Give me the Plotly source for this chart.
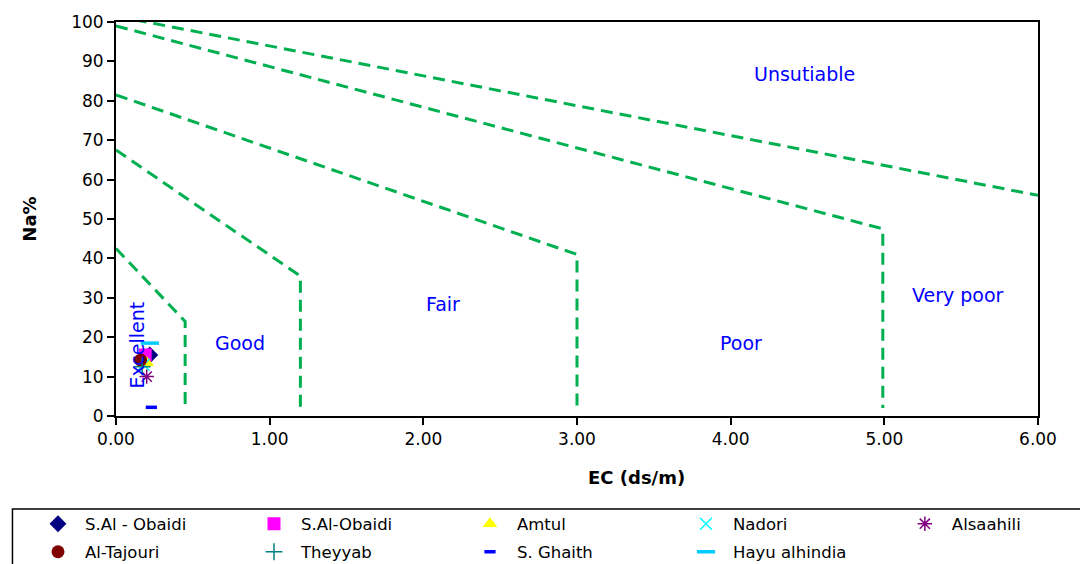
import plotly.graph_objects as go

# ---- Data ----
series_names = ["S.Al - Obaidi", "S.Al-Obaidi", "Amtul", "Nadori", "Alsaahili",
                "Al-Tajouri", "Theyyab", "S. Ghaith", "Hayu alhindia"]
ec_values = [0.22, 0.19, 0.20, 0.18, 0.20, 0.16, 0.17, 0.23, 0.22]
na_values = [15.5, 15.5, 13.5, 13.0, 10.0, 14.2, 12.5, 2.2, 18.5]
symbols = ["diamond", "square", "triangle-up", "x-thin", "asterisk",
           "circle", "cross-thin", "line-ew", "line-ew"]
colors = ["#000080", "#FF00FF", "#FFFF00", "#00FFFF", "#800080",
          "#800000", "#008080", "#0000FF", "#00CCFF"]
legend_slot = ["legend", "legend", "legend", "legend", "legend3",
               "legend2", "legend2", "legend2", "legend2"]

# Wilcox class boundaries (EC, Na%)
excellent_ec = [0.0, 0.45, 0.45]
excellent_na = [42.5, 24.0, 2.0]
good_ec = [0.0, 1.2, 1.2]
good_na = [67.5, 35.5, 2.0]
fair_ec = [0.0, 3.0, 3.0]
fair_na = [81.5, 41.0, 2.0]
poor_ec = [0.0, 4.99, 4.99]
poor_na = [99.0, 47.5, 2.0]
unsuit_ec = [0.0, 6.0]
unsuit_na = [101.5, 56.0]

class_labels = ["Unsutiable", "Fair", "Good", "Poor", "Very poor"]
class_x = [4.48, 2.13, 0.81, 4.07, 5.48]
class_y = [86.8, 28.4, 18.5, 18.5, 30.7]

x_ticks = [0, 1, 2, 3, 4, 5, 6]
x_tick_labels = ["0.00", "1.00", "2.00", "3.00", "4.00", "5.00", "6.00"]
y_ticks = [0, 10, 20, 30, 40, 50, 60, 70, 80, 90, 100]

FONT = "DejaVu Sans, Arial, sans-serif"
GREEN = "#00B050"

fig = go.Figure()

for bx, by in [(excellent_ec, excellent_na), (good_ec, good_na), (fair_ec, fair_na),
               (poor_ec, poor_na), (unsuit_ec, unsuit_na)]:
    fig.add_trace(go.Scatter(x=bx, y=by, mode="lines", showlegend=False,
                             hoverinfo="skip", cliponaxis=False,
                             line=dict(color=GREEN, width=3, dash="12px,7px")))

for i, name in enumerate(series_names):
    sym = symbols[i]
    size = 13
    line = dict(width=0)
    if sym in ("x-thin", "asterisk", "cross-thin"):
        line = dict(width=1.5, color=colors[i])
        size = 12
    if sym == "line-ew":
        line = dict(width=3.5, color=colors[i])
        size = 8 if name == "S. Ghaith" else 13
    fig.add_trace(go.Scatter(x=[ec_values[i]], y=[na_values[i]], mode="markers",
                             name=name, legend=legend_slot[i],
                             marker=dict(symbol=sym, size=size, color=colors[i], line=line)))

annotations = []
for t, x, y in zip(class_labels, class_x, class_y):
    annotations.append(dict(x=x, y=y, xref="x", yref="y", text=t, showarrow=False,
                            font=dict(family=FONT, size=19, color="#0000FF")))
annotations.append(dict(x=0.14, y=18, xref="x", yref="y", text="Excellent",
                        showarrow=False, textangle=-90,
                        font=dict(family=FONT, size=19, color="#0000FF")))
annotations.append(dict(x=0.564, y=-0.188, xref="paper", yref="paper",
                        text="<b>EC (ds/m)</b>", showarrow=False,
                        font=dict(family=FONT, size=18, color="black")))

legend_common = dict(orientation="h", xanchor="left", yanchor="middle",
                     entrywidth=157, entrywidthmode="pixels", itemwidth=44,
                     bgcolor="rgba(0,0,0,0)", borderwidth=0,
                     font=dict(family=FONT, size=16.5, color="black"))

fig.update_layout(
    width=1080, height=556,
    margin=dict(l=108, r=50, t=14, b=148, autoexpand=False),
    paper_bgcolor="white", plot_bgcolor="white",
    font=dict(family=FONT, size=17, color="black"),
    annotations=annotations,
    shapes=[dict(type="rect", xref="paper", yref="paper",
                 x0=-0.1123, x1=1.08, y0=-0.236, y1=-0.42,
                 line=dict(color="black", width=1.5), fillcolor="rgba(0,0,0,0)")],
    showlegend=True,
    legend=dict(x=-0.0922, y=-0.2741, **legend_common),
    legend3=dict(x=0.848, y=-0.2741, **legend_common),
    legend2=dict(x=-0.0922, y=-0.3452, **legend_common),
    xaxis=dict(range=[0, 6], tickvals=x_ticks, ticktext=x_tick_labels,
               showgrid=False, zeroline=False, showline=True, linecolor="black",
               linewidth=2, mirror=True, ticks="outside", ticklen=7, tickwidth=1.5,
               tickcolor="black", tickfont=dict(size=17)),
    yaxis=dict(range=[0, 100], tickvals=y_ticks,
               showgrid=False, zeroline=False, showline=True, linecolor="black",
               linewidth=2, mirror=True, ticks="outside", ticklen=7, tickwidth=1.5,
               tickcolor="black", tickfont=dict(size=17),
               title=dict(text="<b>Na%</b>", standoff=30,
                          font=dict(family=FONT, size=18))),
)

fig.write_html("out.html")
